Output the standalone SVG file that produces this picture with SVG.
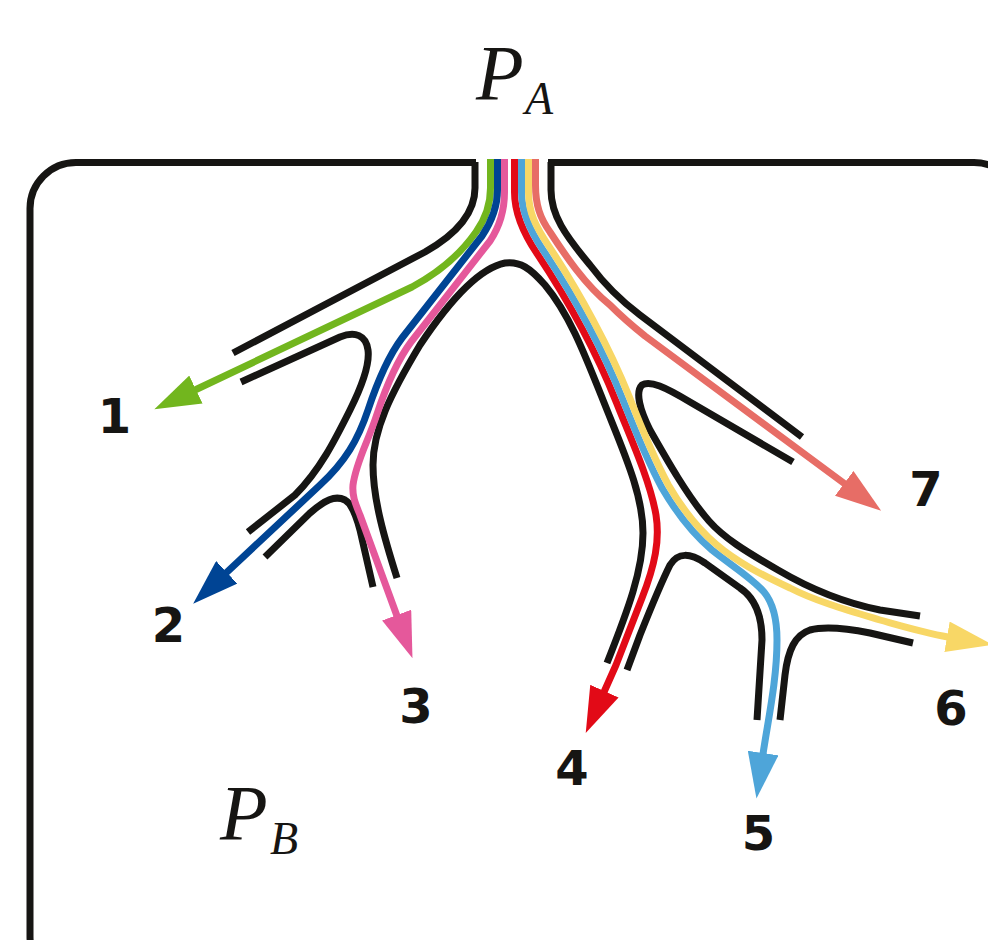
<svg xmlns="http://www.w3.org/2000/svg" width="988" height="940" viewBox="0 0 988 940">
<style>
.wall{fill:none;stroke:#161513;stroke-width:7;stroke-linecap:butt;stroke-linejoin:round}
.flow{fill:none;stroke-width:7;stroke-linecap:butt;stroke-linejoin:round}
.num{font-family:"DejaVu Sans",sans-serif;font-weight:bold;font-size:48px;fill:#161513;text-anchor:middle}
.pv{font-family:"Liberation Serif",serif;font-style:italic;fill:#161513}
</style>
<defs>
<marker id="ag" markerUnits="userSpaceOnUse" viewBox="0 0 46 31" markerWidth="46" markerHeight="31" refX="1" refY="15.5" orient="auto"><path d="M0,0 L46,15.5 L0,31 z" fill="#72b61e"/></marker>
<marker id="ab" markerUnits="userSpaceOnUse" viewBox="0 0 46 31" markerWidth="46" markerHeight="31" refX="1" refY="15.5" orient="auto"><path d="M0,0 L46,15.5 L0,31 z" fill="#004494"/></marker>
<marker id="ap" markerUnits="userSpaceOnUse" viewBox="0 0 46 31" markerWidth="46" markerHeight="31" refX="1" refY="15.5" orient="auto"><path d="M0,0 L46,15.5 L0,31 z" fill="#e5589b"/></marker>
<marker id="ar" markerUnits="userSpaceOnUse" viewBox="0 0 46 31" markerWidth="46" markerHeight="31" refX="1" refY="15.5" orient="auto"><path d="M0,0 L46,15.5 L0,31 z" fill="#e20a17"/></marker>
<marker id="al" markerUnits="userSpaceOnUse" viewBox="0 0 46 31" markerWidth="46" markerHeight="31" refX="1" refY="15.5" orient="auto"><path d="M0,0 L46,15.5 L0,31 z" fill="#4ea5d9"/></marker>
<marker id="ay" markerUnits="userSpaceOnUse" viewBox="0 0 46 31" markerWidth="46" markerHeight="31" refX="1" refY="15.5" orient="auto"><path d="M0,0 L46,15.5 L0,31 z" fill="#f8d766"/></marker>
<marker id="as" markerUnits="userSpaceOnUse" viewBox="0 0 46 31" markerWidth="46" markerHeight="31" refX="1" refY="15.5" orient="auto"><path d="M0,0 L46,15.5 L0,31 z" fill="#e76d66"/></marker>
</defs>
<rect width="988" height="940" fill="#ffffff"/>
<g id="frame">
<rect x="30" y="162.5" width="990" height="820" rx="46" ry="46" fill="none" stroke="#161513" stroke-width="7"/>
<rect x="476" y="150" width="72" height="16" fill="#ffffff"/>
</g>
<g id="walls">
<path class="wall" d="M475 162 V188 C475 215 455 235 425 252 L233 353"/>
<path class="wall" d="M241 382 L340 337 C355 331 366 335 368 350 C370 365 360 390 350 410 C335 440 320 470 295 495 L248 532"/>
<path class="wall" d="M265 557 L310 513 C325 500 335 495 345 500 C352 504 356 515 360 530 L373 587"/>
<path class="wall" d="M397 578 C385 540 373 500 373 465 C373 430 390 395 420 345 C450 300 480 268 505 263 C520 261 530 268 545 285 C570 315 585 355 605 405 C625 455 643 495 643 533 C643 570 628 610 607 663"/>
<path class="wall" d="M551 162 V190 C551 215 565 235 590 265 C605 285 620 300 640 315 L802 437"/>
<path class="wall" d="M793 462 L690 402 C665 387 650 380 642 385 C635 392 640 410 650 430 C667 460 688 497 709 521 C724 538 745 551 778 570 C812 590 845 603 880 610 L920 616"/>
<path class="wall" d="M627 670 L640 635 C650 610 660 585 670 565 C678 552 690 553 705 563 L740 588 C755 598 762 615 762 640 L757 720"/>
<path class="wall" d="M780 720 L785 675 C788 650 795 635 810 630 C825 626 845 628 870 633 L913 643"/>
</g>
<g id="connectors">
<path id="flow1" class="flow" stroke="#72b61e" marker-end="url(#ag)" d="M490.5 159 V188 C490.5 205 486 218 476 232 C462 252 440 272 412 287 L195 390"/>
<path id="flow2" class="flow" stroke="#004494" marker-end="url(#ab)" d="M497.5 159 V190 C497.5 207 492 221 482 236 L402 338 C387 358 377 383 368 410 C358 440 345 462 320 485 L226 573"/>
<path id="flow3" class="flow" stroke="#e5589b" marker-end="url(#ap)" d="M504.5 159 V192 C504.5 210 500 226 490 241 L411 342 C396 362 386 387 377 414 C368 442 356 462 353 485 C352 497 356 505 360 515 L397 616"/>
<path id="flow4" class="flow" stroke="#e20a17" marker-end="url(#ar)" d="M514.5 159 V192 C514.5 212 523.7 233.9 537.2 253.9 C567.2 298.9 596.5 352.6 616.5 402.6 C629.5 435.6 650 480 656 515 C660 540 655 565 642 598 L616 665 C612 674 608 683 604 692"/>
<path id="flow5" class="flow" stroke="#4ea5d9" marker-end="url(#al)" d="M521.5 159 V192 C521.5 212 529.5 230 543 250 C573 295 603 350 623 400 C636 433 648 462 662 488 C676 512 692 533 712 550 C732 566 752 578 764 592 C773 603 777 618 777 640 C777 680 768 720 763 754"/>
<path id="flow6" class="flow" stroke="#f8d766" marker-end="url(#ay)" d="M528.5 159 V192 C528.5 212 535.3 226.1 548.8 246.1 C578.8 291.1 609.5 347.4 629.5 397.4 C642.5 430.4 654.2 458.7 668.2 484.7 C682 508.5 696.5 527.7 716.5 544.7 C736.5 561.7 760 574 790 588 C815 601 850 611 880 620 C905 627 925 633 948 637"/>
<path id="flow7" class="flow" stroke="#e76d66" marker-end="url(#as)" d="M535.5 159 V185 C535.5 205 540 218 550 232 C565 255 585 285 610 305 C620 315 630 324 645 336 L845 484"/>
</g>
<g id="labels">
<text class="num" x="114.5" y="433">1</text>
<text class="num" x="168.5" y="642">2</text>
<text class="num" x="416" y="723">3</text>
<text class="num" x="572" y="785">4</text>
<text class="num" x="758.5" y="850">5</text>
<text class="num" x="951" y="725">6</text>
<text class="num" x="926" y="506">7</text>
</g>
<g id="PA">
<text class="pv" x="476" y="99" font-size="78">P</text>
<text class="pv" x="525" y="114" font-size="46">A</text>
</g>
<g id="PB">
<text class="pv" x="220" y="839" font-size="78">P</text>
<text class="pv" x="270" y="854" font-size="46">B</text>
</g>
</svg>
